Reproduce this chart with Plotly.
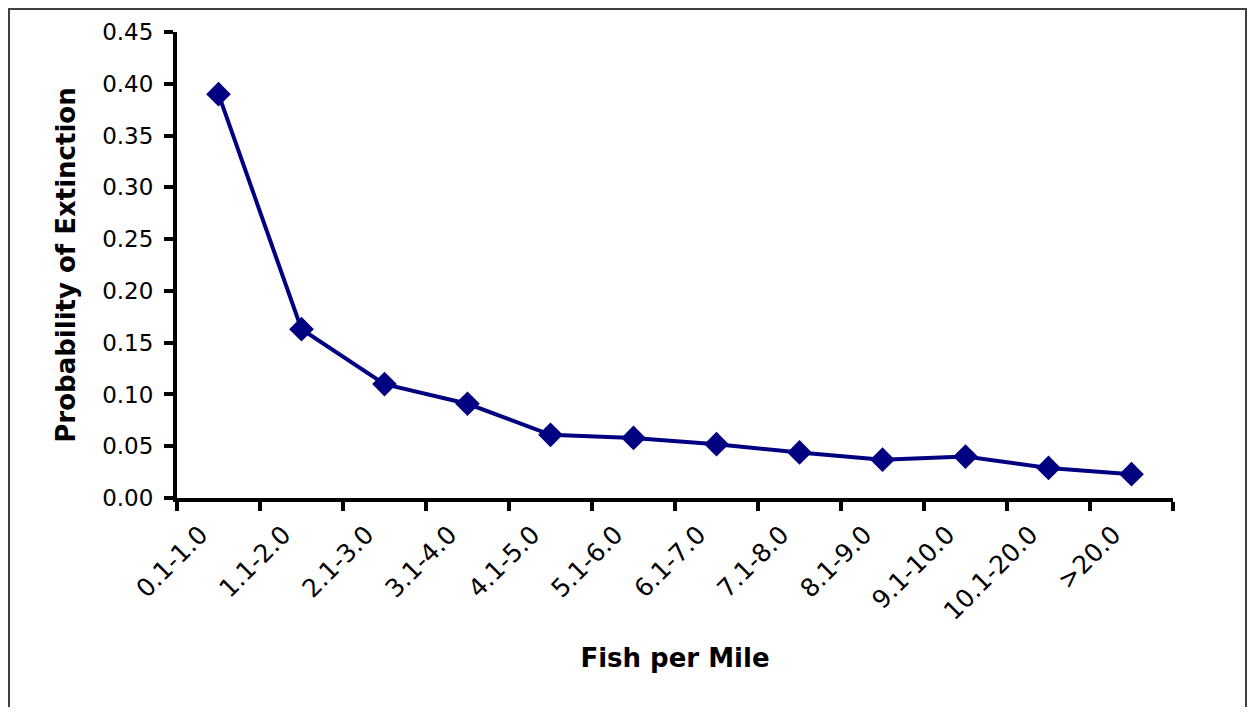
import plotly.graph_objects as go

categories = ["0.1-1.0", "1.1-2.0", "2.1-3.0", "3.1-4.0", "4.1-5.0", "5.1-6.0",
              "6.1-7.0", "7.1-8.0", "8.1-9.0", "9.1-10.0", "10.1-20.0", ">20.0"]
probability = [0.390, 0.163, 0.110, 0.091, 0.061, 0.058,
               0.052, 0.044, 0.037, 0.040, 0.029, 0.023]
y_ticks = [0.00, 0.05, 0.10, 0.15, 0.20, 0.25, 0.30, 0.35, 0.40, 0.45]

# page has an 8px body margin; figure sized to fit the 1255x715 window
W, H = 1239, 699
L, R, T, B = 169, 74, 24, 209
pw, ph = W - L - R, H - T - B

navy = "#000080"

fig = go.Figure()
fig.add_trace(go.Scatter(
    x=categories, y=probability, mode="lines+markers",
    line=dict(color=navy, width=4),
    marker=dict(symbol="diamond", size=19, color=navy),
    showlegend=False, hoverinfo="x+y",
))

fig.update_layout(
    width=W, height=H,
    margin=dict(l=L, r=R, t=T, b=B),
    paper_bgcolor="white", plot_bgcolor="white",
    font=dict(family="DejaVu Sans", color="black"),
    xaxis=dict(
        type="category", tickson="boundaries", range=[-0.5, len(categories) - 0.5],
        showline=True, linecolor="black", linewidth=4,
        ticks="outside", ticklen=9, tickwidth=4, tickcolor="black",
        tickangle=-45, tickfont=dict(size=25, family="DejaVu Sans"),
        ticklabelshift=-18, ticklabelstandoff=8,
        showgrid=False, zeroline=False,
        title=dict(text="Fish per Mile", standoff=25,
                   font=dict(size=26, family="DejaVu Sans", weight="bold")),
    ),
    yaxis=dict(
        range=[0, 0.45], tickvals=y_ticks, tickformat=".2f",
        showline=True, linecolor="black", linewidth=4,
        ticks="outside", ticklen=9, tickwidth=4, tickcolor="black",
        tickfont=dict(size=23, family="DejaVu Sans"),
        ticklabelstandoff=6,
        showgrid=False, zeroline=False,
        title=dict(text="Probability of Extinction", standoff=20,
                   font=dict(size=26, family="DejaVu Sans", weight="bold")),
    ),
    shapes=[dict(
        type="rect", xref="paper", yref="paper",
        x0=-(L - 1) / pw, x1=(W - L - 1) / pw,
        y0=-(B + 40) / ph, y1=(ph + T - 1) / ph,
        line=dict(color="#404040", width=2), fillcolor="rgba(0,0,0,0)",
        layer="below",
    )],
)

fig.write_html("out.html")
